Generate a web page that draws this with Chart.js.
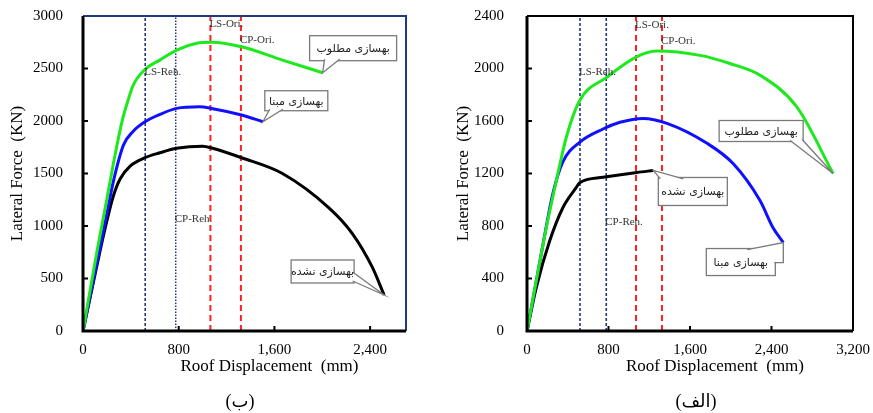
<!DOCTYPE html>
<html>
<head>
<meta charset="utf-8">
<script src="https://cdn.jsdelivr.net/npm/chart.js@4.4.1/dist/chart.umd.min.js"></script>
<style>
  body { margin: 0; background: #fff; }
  #wrap { position: relative; width: 873px; height: 413px; }
  .panel { position: absolute; top: 0; height: 413px; }
  .cap {
    position: absolute; top: 390px; transform: translateX(-50%);
    font: 18px "Liberation Serif", "DejaVu Sans", serif; color: #000;
  }
</style>
</head>
<body>
<div id="wrap">
  <div class="panel" style="left:0;width:436px"><canvas id="chartB"></canvas></div>
  <div class="panel" style="left:446px;width:427px"><canvas id="chartAlef"></canvas></div>
  <div class="cap" style="left:240px">(ب)</div>
  <div class="cap" style="left:696px">(الف)</div>
</div>

<script>
// ---------------------------------------------
// DATA
// ---------------------------------------------
const seriesNames = ["بهسازی مطلوب", "بهسازی مبنا", "بهسازی نشده"];
const levelNames = ["LS-Reh.", "CP-Reh.", "LS-Ori.", "CP-Ori."];

// panel (ب)
const dispB_green = [0, 117, 200, 255, 325, 380, 419, 517, 642, 783, 950, 1075, 1333, 1667, 2003];
const forceB_green = [0, 760, 1260, 1600, 1990, 2210, 2340, 2490, 2580, 2676, 2740, 2750, 2705, 2580, 2460];
const dispB_blue = [0, 144, 200, 255, 338, 422, 519, 644, 783, 975, 1075, 1325, 1503];
const forceB_blue = [0, 800, 1120, 1430, 1770, 1905, 1993, 2063, 2120, 2135, 2120, 2057, 1993];
const dispB_black = [0, 144, 200, 255, 311, 394, 519, 644, 783, 1000, 1083, 1325, 1667, 2058, 2250, 2417, 2517];
const forceB_black = [0, 770, 1050, 1290, 1450, 1571, 1651, 1698, 1740, 1760, 1740, 1650, 1500, 1170, 930, 610, 343];
const levelDispB = [520, 775, 1065, 1320];
const levelTagB = [2470, 1070, 2925, 2770];
const xTicksB = [0, 800, 1600, 2400];
const yTicksB = [0, 500, 1000, 1500, 2000, 2500, 3000];

// panel (الف)
const dispA_green = [0, 91, 190, 288, 386, 517, 785, 1070, 1276, 1698, 1992, 2287, 2650, 3005];
const forceA_green = [0, 382, 789, 1145, 1476, 1756, 1934, 2087, 2133, 2100, 2038, 1949, 1705, 1200];
const dispA_blue = [0, 91, 157, 255, 353, 517, 746, 913, 1139, 1374, 1767, 2023, 2287, 2415, 2516];
const forceA_blue = [0, 380, 660, 1050, 1290, 1438, 1539, 1590, 1620, 1582, 1430, 1276, 994, 787, 674];
const dispA_black = [0, 91, 223, 353, 484, 517, 746, 1080, 1240];
const forceA_black = [0, 331, 687, 941, 1094, 1130, 1171, 1208, 1223];
const levelDispA = [520, 778, 1070, 1325];
const levelTagA = [1970, 830, 2330, 2205];
const xTicksA = [0, 800, 1600, 2400, 3200];
const yTicksA = [0, 400, 800, 1200, 1600, 2000, 2400];

// ---------------------------------------------
// HELPERS
// ---------------------------------------------
const SERIF = '"Liberation Serif", "Times New Roman", serif';
const NAVY = "#1f3a80";
const RED = "#ff2020";

function pts(xs, ys) {
  return xs.map((x, i) => ({ x, y: ys[i] }));
}

function curve(xs, ys, color, order) {
  return {
    data: pts(xs, ys), borderColor: color, borderWidth: 3,
    pointRadius: 0, cubicInterpolationMode: "monotone", order
  };
}

function level(x, yMax, color, dash, width) {
  return {
    data: [{ x, y: 0 }, { x, y: yMax }], borderColor: color,
    borderDash: dash, borderWidth: width, pointRadius: 0, order: 10
  };
}

// no extra room for edge labels: the chart area is fixed by layout padding
function noEdgePad(s) {
  s.paddingTop = 0; s.paddingBottom = 0; s.paddingLeft = 0; s.paddingRight = 0;
}

// tags on the level lines, inward ticks, frame, x title, callout boxes
function decoPlugin(opt) {
  return {
    id: "deco",
    afterDatasetsDraw(chart) {
      const { ctx, chartArea: a, scales: { x, y } } = chart;
      ctx.save();

      // level tags
      ctx.font = "11px " + SERIF;
      ctx.fillStyle = "#333";
      ctx.textAlign = "left";
      ctx.textBaseline = "middle";
      opt.levelDisp.forEach((d, i) => {
        ctx.fillText(levelNames[i], x.getPixelForValue(d) - 1, y.getPixelForValue(opt.levelTag[i]));
      });

      // callouts
      opt.callouts.forEach(c => {
        const ds = chart.data.datasets[c.ds].data;
        const last = ds[ds.length - 1];
        const tx = x.getPixelForValue(last.x), ty = y.getPixelForValue(last.y);
        const [dx, dy, w, h] = c.box;
        ctx.lineWidth = 1.3;
        ctx.strokeStyle = "#7a7a7a";
        ctx.fillStyle = "#fff";
        ctx.fillRect(tx + dx, ty + dy, w, h);
        ctx.strokeRect(tx + dx, ty + dy, w, h);
        ctx.beginPath();
        c.tail.forEach((p, k) => k ? ctx.lineTo(tx + p[0], ty + p[1]) : ctx.moveTo(tx + p[0], ty + p[1]));
        ctx.closePath();
        ctx.fill();
        ctx.beginPath();
        c.tail.forEach((p, k) => k ? ctx.lineTo(tx + p[0], ty + p[1]) : ctx.moveTo(tx + p[0], ty + p[1]));
        ctx.stroke();
        ctx.fillStyle = "#222";
        ctx.font = '11px "DejaVu Sans", sans-serif';
        ctx.textAlign = "center";
        ctx.textBaseline = "middle";
        ctx.fillText(seriesNames[c.name], tx + dx + w / 2, ty + dy + h / 2 + 1);
      });

      // inward tick marks
      ctx.strokeStyle = "#000";
      ctx.lineWidth = 2;
      x.ticks.forEach(t => {
        const px = x.getPixelForValue(t.value);
        ctx.beginPath(); ctx.moveTo(px, a.bottom); ctx.lineTo(px, a.bottom - 5); ctx.stroke();
      });
      y.ticks.forEach(t => {
        const py = y.getPixelForValue(t.value);
        ctx.beginPath(); ctx.moveTo(a.left, py); ctx.lineTo(a.left + 5, py); ctx.stroke();
      });

      // frame
      ctx.strokeStyle = opt.frameColor;
      ctx.lineWidth = 2;
      ctx.beginPath();
      ctx.moveTo(a.left, a.top); ctx.lineTo(a.right, a.top); ctx.lineTo(a.right, a.bottom);
      ctx.stroke();
      ctx.strokeStyle = "#000";
      ctx.lineWidth = 3;
      ctx.beginPath();
      ctx.moveTo(a.left, a.top); ctx.lineTo(a.left, a.bottom); ctx.lineTo(a.right, a.bottom);
      ctx.stroke();

      // x title
      ctx.fillStyle = "#000";
      ctx.font = "17px " + SERIF;
      ctx.textAlign = "center";
      ctx.textBaseline = "middle";
      ctx.fillText("Roof Displacement  (mm)", (a.left + a.right) / 2 + 25, 367);
      ctx.restore();
    }
  };
}

function makeChart(id, opt) {
  return new Chart(document.getElementById(id), {
    type: "line",
    data: { datasets: opt.datasets },
    options: {
      responsive: true, maintainAspectRatio: false, animation: false,
      layout: { padding: { left: 0, top: 16, right: opt.padRight, bottom: 32 } },
      plugins: { legend: { display: false }, tooltip: { enabled: false } },
      scales: {
        x: {
          type: "linear", min: 0, max: opt.xMax,
          grid: { display: false }, border: { display: false },
          afterBuildTicks: s => { s.ticks = opt.xTicks.map(v => ({ value: v })); },
          afterFit: s => { s.height = 50; noEdgePad(s); },
          ticks: {
            padding: 2, autoSkip: false, maxRotation: 0, color: "#000",
            font: { family: SERIF, size: 15 },
            callback: v => v.toLocaleString("en-US")
          }
        },
        y: {
          min: 0, max: opt.yMax,
          grid: { display: false }, border: { display: false },
          afterBuildTicks: s => { s.ticks = opt.yTicks.map(v => ({ value: v })); },
          afterFit: s => { s.width = opt.yAxisW; noEdgePad(s); },
          title: {
            display: true, text: "Lateral Force  (KN)", color: "#000",
            font: { family: SERIF, size: 17 }, padding: { top: 7, bottom: 0 }
          },
          ticks: {
            padding: opt.yPad, autoSkip: false, color: "#000",
            font: { family: SERIF, size: 15 },
            callback: v => String(v)
          }
        }
      }
    },
    plugins: [decoPlugin(opt)]
  });
}

// ---------------------------------------------
// PANEL (ب)
// ---------------------------------------------
makeChart("chartB", {
  xMax: 2700, yMax: 3000, xTicks: xTicksB, yTicks: yTicksB,
  yAxisW: 83, yPad: 12, padRight: 30, frameColor: NAVY,
  levelDisp: levelDispB, levelTag: levelTagB,
  datasets: [
    curve(dispB_green, forceB_green, "#1ee81e", 1),
    curve(dispB_blue, forceB_blue, "#1010ff", 2),
    curve(dispB_black, forceB_black, "#000", 3),
    level(levelDispB[0], 3000, NAVY, [3, 2], 1.6),
    level(levelDispB[1], 3000, NAVY, [1.5, 1.5], 1.5),
    level(levelDispB[2], 3000, RED, [6, 4], 2),
    level(levelDispB[3], 3000, RED, [6, 4], 2)
  ],
  callouts: [
    { name: 0, ds: 0, box: [-13, -37, 87, 25], tail: [[2, -13.5], [0, 0], [17, -13.5]] },
    { name: 1, ds: 1, box: [2, -31, 63, 20], tail: [[7, -12.5], [0, 0], [20, -12.5]] },
    { name: 2, ds: 2, box: [-93, -35, 63, 23], tail: [[-31.5, -23], [0, 0], [-31.5, -14]] }
  ]
});

// ---------------------------------------------
// PANEL (الف)
// ---------------------------------------------
makeChart("chartAlef", {
  xMax: 3200, yMax: 2400, xTicks: xTicksA, yTicks: yTicksA,
  yAxisW: 81, yPad: 15, padRight: 20, frameColor: "#000",
  levelDisp: levelDispA, levelTag: levelTagA,
  datasets: [
    curve(dispA_green, forceA_green, "#1ee81e", 1),
    curve(dispA_blue, forceA_blue, "#1010ff", 2),
    curve(dispA_black, forceA_black, "#000", 3),
    level(levelDispA[0], 2400, NAVY, [3, 2], 1.6),
    level(levelDispA[1], 2400, NAVY, [3, 2], 1.6),
    level(levelDispA[2], 2400, RED, [6, 4], 2),
    level(levelDispA[3], 2400, RED, [6, 4], 2)
  ],
  callouts: [
    { name: 0, ds: 0, box: [-114, -53, 84, 21], tail: [[-43, -33], [0, 0], [-31, -34]] },
    { name: 2, ds: 2, box: [5, 7, 69, 28], tail: [[7, 8.4], [0, 0], [30, 8.4]] },
    { name: 1, ds: 1, box: [-77, 6, 69, 27], tail: [[-36, 7], [0, 0], [0, 20], [-9, 20]] }
  ]
});
</script>
</body>
</html>
